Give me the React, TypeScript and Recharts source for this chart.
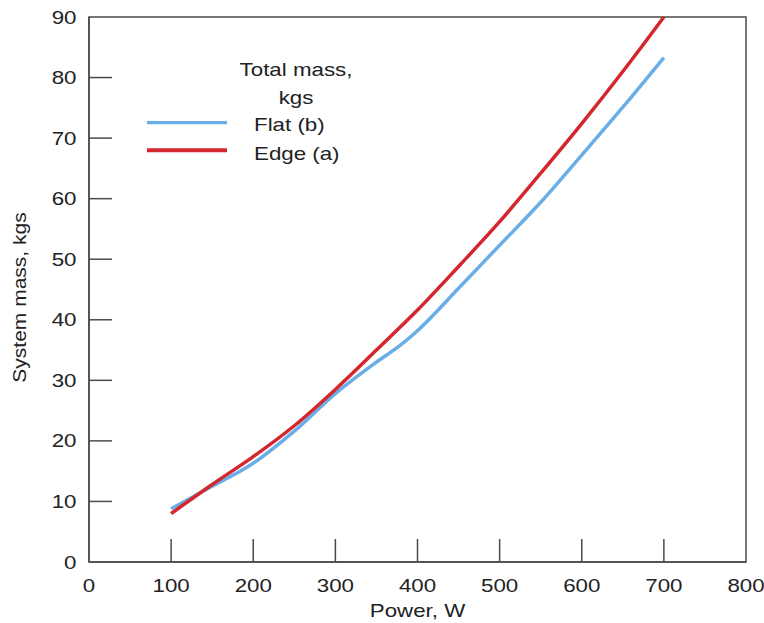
import React from 'react';
import { LineChart, Line, XAxis, YAxis, Legend, ReferenceArea } from 'recharts';

const xTicks = [0, 100, 200, 300, 400, 500, 600, 700, 800];
const yTicks = [0, 10, 20, 30, 40, 50, 60, 70, 80, 90];

const edgePower = [100, 150, 200, 250, 300, 350, 400, 450, 500, 550, 600, 650, 700];
const edgeMass = [8.0, 12.8, 17.4, 22.5, 28.5, 35.0, 41.6, 48.8, 56.2, 64.2, 72.4, 81.0, 90.0];

const flatPower = [100, 150, 200, 250, 300, 350, 380, 400, 450, 500, 550, 600, 650, 700];
const flatMass = [8.8, 12.5, 16.3, 21.6, 27.8, 33.0, 35.9, 38.2, 45.2, 52.3, 59.4, 67.2, 75.1, 83.3];

const legendTitle = ['Total mass,', 'kgs'];
const seriesNames = { flat: 'Flat (b)', edge: 'Edge (a)' };
const axisTitles = { x: 'Power, W', y: 'System mass, kgs' };

const edgeData = edgePower.map((p, i) => ({ power: p, mass: edgeMass[i] }));
const flatData = flatPower.map((p, i) => ({ power: p, mass: flatMass[i] }));

const FONT = '"Liberation Sans", Arial, sans-serif';
const FS = 18.6;
const SX = 1.2;
const AXIS = '#4a4a4a';
const INK = '#222';
const BLUE = '#6aaee8';
const RED = '#d3262d';

const T = ({ x, y, anchor = 'start', sx = SX, children }: any) => (
  <text
    transform={`translate(${x},${y}) scale(${sx},1)`}
    x={0}
    y={0}
    textAnchor={anchor}
    fontSize={FS}
    fontFamily={FONT}
    fill={INK}
  >
    {children}
  </text>
);

const XTick = (props: any) => {
  const { x, y, payload } = props;
  const v = payload.value;
  return (
    <g>
      {v !== 0 && v !== 800 && (
        <line x1={x} x2={x} y1={y} y2={y - 23} stroke={AXIS} strokeWidth={1.5} />
      )}
      <T x={x} y={y + 30} anchor="middle">{v}</T>
    </g>
  );
};

const YTick = (props: any) => {
  const { x, y, payload } = props;
  const v = payload.value;
  return (
    <g>
      {v !== 0 && v !== 90 && (
        <line x1={x} x2={x + 23} y1={y} y2={y} stroke={AXIS} strokeWidth={1.5} />
      )}
      <T x={x - 12.5} y={y + 6.6} anchor="end">{v}</T>
    </g>
  );
};

const XLabel = (props: any) => {
  const { viewBox } = props;
  const cx = viewBox.x + viewBox.width / 2;
  const cy = viewBox.y + viewBox.height - 6;
  return <T x={cx} y={cy} anchor="middle">{axisTitles.x}</T>;
};

const YLabel = (props: any) => {
  const { viewBox } = props;
  const cx = viewBox.x + 26;
  const cy = viewBox.y + viewBox.height / 2 + 8;
  return (
    <g transform={`rotate(-90 ${cx} ${cy})`}>
      <T x={cx} y={cy} anchor="middle" sx={1.13}>{axisTitles.y}</T>
    </g>
  );
};

const LegendContent = () => (
  <svg width={764} height={180} style={{ display: 'block' }}>
    <T x={296} y={76} anchor="middle">{legendTitle[0]}</T>
    <T x={296} y={103.5} anchor="middle">{legendTitle[1]}</T>
    <line x1={147} x2={227} y1={122.7} y2={122.7} stroke={BLUE} strokeWidth={3.2} />
    <T x={254} y={131}>{seriesNames.flat}</T>
    <line x1={147} x2={227} y1={150.3} y2={150.3} stroke={RED} strokeWidth={4} />
    <T x={254} y={159.5}>{seriesNames.edge}</T>
  </svg>
);

export default function App() {
  return (
    <div style={{ position: 'absolute', left: 0, top: 0, background: '#fff' }}>
      <LineChart
        width={764}
        height={623}
        margin={{ top: 17, right: 18, bottom: 0, left: 0 }}
      >
        <XAxis
          dataKey="power"
          type="number"
          domain={[0, 800]}
          ticks={xTicks}
          allowDuplicatedCategory={false}
          tick={<XTick />}
          tickLine={false}
          tickSize={0}
          tickMargin={0}
          height={61}
          axisLine={{ stroke: AXIS, strokeWidth: 1.5 }}
          label={<XLabel />}
          interval={0}
        />
        <YAxis
          type="number"
          domain={[0, 90]}
          ticks={yTicks}
          tick={<YTick />}
          tickLine={false}
          tickSize={0}
          tickMargin={0}
          width={89}
          axisLine={{ stroke: AXIS, strokeWidth: 1.5 }}
          label={<YLabel />}
          interval={0}
        />
        <ReferenceArea x1={0} x2={800} y1={0} y2={90} fill="none" stroke={AXIS} strokeWidth={1.5} />
        <Legend
          layout="vertical"
          align="center"
          verticalAlign="middle"
          wrapperStyle={{ left: 0, top: 0, width: 764, height: 180, pointerEvents: 'none' }}
          content={<LegendContent />}
        />
        <Line
          data={flatData}
          dataKey="mass"
          name={seriesNames.flat}
          stroke={BLUE}
          strokeWidth={3.5}
          dot={false}
          type="monotone"
          isAnimationActive={false}
        />
        <Line
          data={edgeData}
          dataKey="mass"
          name={seriesNames.edge}
          stroke={RED}
          strokeWidth={3.5}
          dot={false}
          type="monotone"
          isAnimationActive={false}
        />
      </LineChart>
    </div>
  );
}
